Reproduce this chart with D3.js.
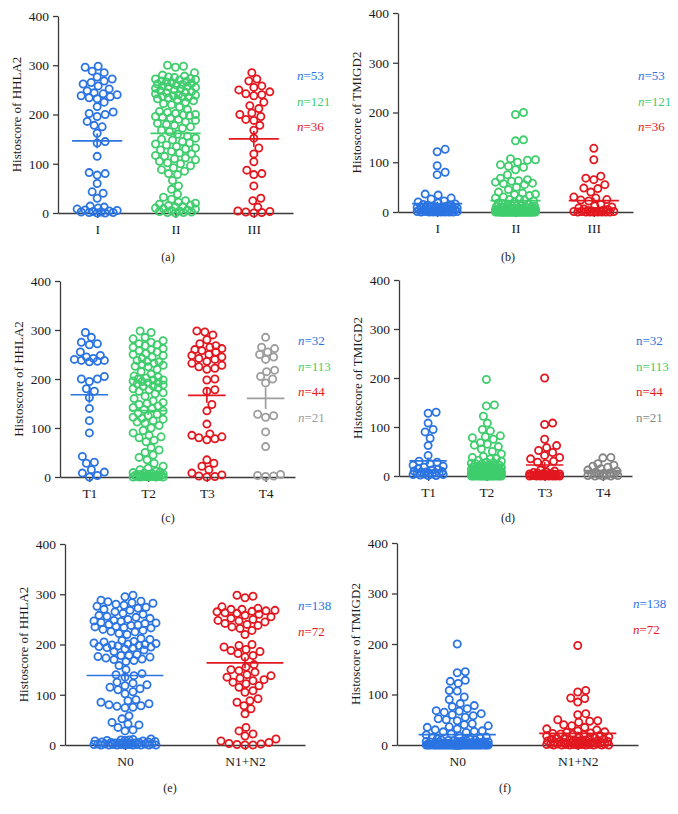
<!DOCTYPE html>
<html>
<head>
<meta charset="utf-8">
<script src="https://cdn.jsdelivr.net/npm/d3@7"></script>
<style>
  body { margin: 0; background: #fff; }
  svg { display: block; font-family: "Liberation Serif", "DejaVu Serif", serif; }
</style>
</head>
<body>
<div id="vis"></div>
<script>

// categories
const stageCats = ["I", "II", "III"];
const tCats = ["T1", "T2", "T3", "T4"];
const nCats = ["N0", "N1+N2"];
const yTicks = [0, 100, 200, 300, 400];

// HHLA2 histoscore by stage
const hhla2StageI = [298, 296, 288, 285, 276, 272, 268, 265, 262, 258, 252, 248, 244, 242, 240, 238, 236, 234, 232,
  225, 216, 205, 202, 200, 196, 186, 178, 175, 162, 145, 142, 115, 82, 80, 77, 60, 43, 40, 30, 14, 12,
  10, 8, 6, 5, 4, 3, 2, 2, 1, 1, 0, 0];
const hhla2StageII = [300, 298, 296,
  285, 280, 278, 276, 275, 273, 272, 270, 268, 266, 265, 263, 262, 260, 258, 256, 255, 253, 252, 250,
  271, 267, 261, 257, 245, 237,
  248, 246, 244, 242, 240, 239, 238, 236, 235, 234, 232, 230, 228, 225, 222, 220,
  215, 210, 206, 204, 202, 200, 199, 198, 196, 195, 193, 190, 188, 185, 182, 180,
  178, 175, 172, 168, 165, 160, 156, 152, 150, 148, 145, 142, 140,
  138, 135, 132, 130, 128, 125, 122, 120, 117, 115, 112, 110, 108, 105, 102, 100,
  96, 92, 88, 85, 80, 78, 66,
  55, 48, 38, 32, 28, 25, 22, 20,
  18, 16, 15, 13, 12, 10, 9, 8, 6, 5, 4, 3, 2, 1, 1, 0];
const hhla2StageIII = [285, 272, 268, 258, 255, 250, 246, 242, 240, 238, 225, 218, 212, 203, 200, 196, 190, 188,
  178, 168, 152, 132, 120, 104, 87, 80, 78, 55, 30, 25, 12, 4, 3, 2, 1, 0];

// TMIGD2 histoscore by stage
const tmigd2StageI = [126, 121, 93, 80, 75, 36, 34, 28, 26, 22, 20, 18, 16, 15, 14, 13, 12, 11, 10, 10,
  9, 9, 8, 8, 7, 7, 6, 6, 5, 5, 5, 4, 4, 4, 3, 3, 3, 2, 2, 2, 2, 1, 1, 1, 1, 0, 0, 0, 0, 0, 0, 0, 0];
const tmigd2StageII = [200, 196, 145, 143, 107, 105, 104, 100, 95, 92, 90, 85, 75, 68, 65, 63, 62, 60, 58, 57,
  55, 50, 45, 40, 38, 36, 35, 33, 30,
  28, 26, 25, 24, 22, 20, 18, 17, 16, 15, 14, 13, 12, 12, 11, 10, 10, 9, 9, 8,
  8, 7, 7, 7, 6, 6, 6, 5, 5, 5, 5, 4, 4, 4, 4, 3, 3, 3, 3, 3, 2, 2, 2, 2, 2, 2, 1, 1, 1, 1, 1, 1, 1, 1,
  0, 0, 0, 0, 0, 0, 0, 0, 0, 0, 0, 0, 0, 0, 0, 0, 0, 0, 0, 0, 0, 0, 0, 0, 0, 0, 0, 0, 0, 0, 0, 0, 0, 0, 0, 0, 0, 0];
const tmigd2StageIII = [128, 105, 72, 68, 65, 55, 48, 47, 40, 30, 28, 25, 24, 22, 15, 12, 10, 8, 6, 5, 4, 3,
  2, 2, 1, 1, 1, 1, 0, 0, 0, 0, 0, 0, 0, 0];

// HHLA2 histoscore by T stage
const hhla2T1 = [295, 285, 275, 272, 270, 255, 248, 245, 242, 240, 238, 238, 236, 235, 205, 200, 200, 195, 180,
  175, 162, 140, 115, 90, 42, 30, 28, 15, 10, 8, 3, 0];
const hhla2T2 = [298, 295, 285, 282,
  278, 275, 272, 270, 268, 265, 262, 260, 258, 255, 252, 250, 248, 245, 242,
  238, 235, 232, 230, 228, 225, 220, 215, 210, 206, 204, 202, 200,
  198, 196, 195, 193, 190, 188, 185, 182, 178, 175, 172, 170,
  165, 160, 155, 150, 148, 145, 142, 140, 135, 130, 128, 125, 122, 120,
  118, 115, 112, 110, 105, 100, 95, 90, 85, 82, 80,
  75, 72, 60, 55, 50, 45, 40,
  236, 226, 198, 192, 186, 180, 152, 138,
  35, 28, 22, 18, 15, 12, 10, 9, 8, 7, 6, 5, 5, 4, 3, 3, 2, 2, 1, 1, 1, 0, 0, 0, 0, 0, 1, 2, 3];
const hhla2T3 = [298, 296, 290, 280, 272, 268, 265, 262, 260, 258, 255, 250, 248, 245, 242, 240, 236, 232, 228,
  225, 222, 220, 200, 198, 178, 175, 148, 135, 108, 88, 85, 82, 80, 78, 76, 35, 28, 22, 15, 8, 4, 2, 1, 0];
const hhla2T4 = [285, 265, 262, 255, 250, 245, 240, 218, 215, 205, 200, 192, 128, 125, 122, 92, 62, 5, 3, 2, 1];

// TMIGD2 histoscore by T stage
const tmigd2T1 = [130, 128, 108, 95, 90, 77, 62, 42, 30, 28, 25, 22, 20, 18, 15, 14, 12, 10, 9, 8, 8, 7, 6,
  5, 5, 4, 4, 3, 3, 2, 1, 1];
const tmigd2T2 = [197, 145, 143, 122, 108, 95, 92, 82, 80, 78, 75, 68, 65, 63, 60, 55, 50, 45, 40, 38, 36, 35, 32, 30,
  28, 27, 26, 25, 24, 23, 22, 21, 20, 20, 19, 18, 18, 17, 16, 16, 15, 15, 14, 14,
  13, 13, 12, 12, 11, 11, 10, 10, 10, 9, 9, 9, 8, 8, 8, 8, 7, 7, 7, 7,
  6, 6, 6, 6, 5, 5, 5, 5, 5, 4, 4, 4, 4, 4, 3, 3, 3, 3, 3, 3, 2, 2, 2, 2, 2, 2, 1, 1, 1, 1, 1, 1, 1,
  0, 0, 0, 0, 0, 0, 0, 0, 0, 0, 0, 0, 0, 0, 0, 0];
const tmigd2T3 = [200, 108, 105, 75, 62, 58, 52, 48, 42, 38, 35, 30, 28, 25, 12, 10, 8, 7, 6, 5, 5, 4, 4,
  3, 3, 3, 2, 2, 2, 2, 1, 1, 1, 1, 1, 1, 0, 0, 0, 0, 0, 0, 0, 0];
const tmigd2T4 = [38, 37, 25, 22, 20, 18, 15, 12, 10, 8, 6, 5, 4, 3, 2, 2, 1, 1, 0, 0, 0];

// HHLA2 histoscore by N stage
const hhla2N0 = [298, 295, 288, 286, 285, 283, 282, 280,
  278, 276, 274, 272, 270, 268, 265, 262, 260, 258, 256, 254, 252, 250,
  248, 246, 244, 242, 240, 238, 236, 235, 233, 230, 228, 225, 222, 220,
  212, 208, 205, 203, 202, 200, 199, 198, 197, 196, 195, 193, 191, 189,
  180, 178, 176, 175, 173, 171, 170, 168, 166,
  158, 150, 142, 140, 138, 135,
  125, 123, 120, 118, 115, 112, 110, 106, 102,
  90, 88, 85, 82, 80, 78, 77, 75, 74,
  58, 52, 45, 42, 40, 35, 30, 28,
  247, 243, 239, 234, 226, 210, 206, 201, 194, 186, 178,
  12, 11, 10, 9, 8, 8, 7, 6, 5, 5, 4, 4, 3, 3, 2, 2, 2, 1, 1, 1, 1, 0, 0, 0, 0, 0, 0, 0,
  0, 1, 2, 3, 4, 6, 9, 10];
const hhla2N12 = [298, 296, 293, 275, 272, 270, 268, 267, 266, 265, 263, 262, 260, 258, 255, 252, 250, 248, 247,
  245, 242, 240, 238, 235, 232, 228, 220, 200, 198, 195, 190, 188, 186, 182, 178, 175, 160, 155, 150, 148,
  145, 140, 138, 135, 133, 130, 128, 125, 122, 118, 115, 108, 105, 92, 88, 85, 78, 72, 62, 35, 28, 22,
  18, 12, 8, 5, 3, 2, 1, 0, 270, 0];

// TMIGD2 histoscore by N stage
const tmigd2N0 = [200, 145, 143, 128, 126, 122, 108, 107, 95, 90, 82, 78, 76, 72, 68, 67, 65, 62, 60, 58,
  55, 52, 50, 48, 42, 40, 38, 36, 35, 32, 30, 28, 27, 26, 25,
  22, 20, 18, 16, 15, 14, 12, 11, 10, 10, 9, 9, 8, 8, 7, 7, 6, 6, 6, 5, 5, 5, 5, 4, 4, 4, 4,
  3, 3, 3, 3, 3, 2, 2, 2, 2, 2, 2,
  1, 1, 1, 1, 1, 1, 1, 1, 1, 1, 1, 1, 1, 1, 1, 1, 1, 1, 1, 1, 1, 1, 1, 1, 1, 1, 1, 1, 1, 1,
  0, 0, 0, 0, 0, 0, 0, 0, 0, 0, 0, 0, 0, 0, 0, 0, 0, 0, 0, 0, 0, 0, 0, 0, 0, 0, 0, 0, 0, 0, 0, 0, 0, 0, 0];
const tmigd2N12 = [197, 108, 105, 93, 92, 85, 62, 60, 50, 48, 47, 45, 40, 38, 35, 32, 30, 28,
  26, 25, 24, 23, 22, 21, 20, 19, 18, 17, 16, 15, 14, 14, 13, 12, 12, 11, 10, 10, 9, 9, 8, 8, 7, 7,
  6, 6, 5, 5, 5, 4, 4, 4, 3, 3, 3, 2, 2, 2, 2, 1, 1, 1, 1, 1, 0, 0, 0, 0, 0, 0, 0, 0];

const blue = "#2b74e2", green = "#3fcd6d", red = "#e2171f";

const panels = [
  {letter: "(a)", label: "Histoscore of HHLA2", cats: stageCats, groups: [hhla2StageI, hhla2StageII, hhla2StageIII],
   colors: [blue, green, red], x0: 58, x1: 293, yTop: 16, yBot: 213, nX: 297, nY: 80, lx: 168, ly: 261, italic: true},
  {letter: "(b)", label: "Histoscore of TMIGD2", cats: stageCats, groups: [tmigd2StageI, tmigd2StageII, tmigd2StageIII],
   colors: [blue, green, red], x0: 398, x1: 633, yTop: 13, yBot: 212, nX: 638, nY: 80, lx: 508, ly: 261, italic: true},
  {letter: "(c)", label: "Histoscore of HHLA2", cats: tCats, groups: [hhla2T1, hhla2T2, hhla2T3, hhla2T4],
   colors: [blue, green, red, "#9d9d9d"], x0: 60, x1: 295, yTop: 281, yBot: 477, nX: 298, nY: 345, lx: 168, ly: 522, italic: true},
  {letter: "(d)", label: "Histoscore of TMIGD2", cats: tCats, groups: [tmigd2T1, tmigd2T2, tmigd2T3, tmigd2T4],
   colors: [blue, green, red, "#858585"], x0: 399, x1: 632, yTop: 280, yBot: 476, nX: 636, nY: 345, lx: 508, ly: 522, italic: false},
  {letter: "(e)", label: "Histoscore of HHLA2", cats: nCats, groups: [hhla2N0, hhla2N12],
   colors: [blue, red], x0: 65, x1: 305, yTop: 544, yBot: 745, nX: 298, nY: 610, lx: 170, ly: 792, italic: true},
  {letter: "(f)", label: "Histoscore of TMIGD2", cats: nCats, groups: [tmigd2N0, tmigd2N12],
   colors: [blue, red], x0: 397, x1: 638, yTop: 543, yBot: 745, nX: 633, nY: 608, lx: 505, ly: 792, italic: true}
];

const W = 678, H = 814;
const r = 3.6;

const svg = d3.select("#vis").append("svg")
  .attr("width", W)
  .attr("height", H);

svg.append("rect").attr("width", W).attr("height", H).attr("fill", "#fff");

// greedy beeswarm: place each point as close to the centre as it fits, bottom first
function swarm(values, y, maxOff, minDist) {
  const pts = values.map(v => ({v: v, y: y(v)})).sort((a, b) => b.y - a.y);
  const placed = [];
  pts.forEach(p => {
    let best = 0, bestD = -1;
    for (let k = 0; k <= maxOff * 2; k++) {
      const off = (k % 2 ? 1 : -1) * Math.ceil(k / 2);
      let dmin = Infinity;
      placed.forEach(q => {
        if (Math.abs(q.y - p.y) >= minDist) return;
        const d = Math.hypot(q.off - off, q.y - p.y);
        if (d < dmin) dmin = d;
      });
      if (dmin >= minDist) { best = off; bestD = dmin; break; }
      if (dmin > bestD) { bestD = dmin; best = off; }
    }
    p.off = best;
    placed.push(p);
  });
  return pts;
}

panels.forEach(p => {
  const g = svg.append("g");

  const y = d3.scaleLinear().domain([0, 400]).range([p.yBot, p.yTop]);
  const x = d3.scalePoint().domain(p.cats).range([p.x0, p.x1]).padding(0.5);
  const step = x.step();

  // axes
  const yAxis = g.append("g")
    .attr("transform", `translate(${p.x0},0)`)
    .call(d3.axisLeft(y).tickValues(yTicks).tickSize(5).tickSizeOuter(0).tickPadding(4));
  const xAxis = g.append("g")
    .attr("transform", `translate(0,${p.yBot})`)
    .call(d3.axisBottom(x).tickSize(5).tickSizeOuter(0).tickPadding(6));

  [yAxis, xAxis].forEach(a => {
    a.attr("font-family", "Liberation Serif").attr("font-size", 13.5);
    a.selectAll("path, line").attr("stroke", "#3a3a3a").attr("stroke-width", 1.3);
    a.selectAll("text").attr("fill", "#1a1a1a");
  });

  g.append("text")
    .attr("transform", `translate(${p.x0 - 42},${(p.yTop + p.yBot) / 2}) rotate(-90)`)
    .attr("text-anchor", "middle")
    .attr("dy", "0.35em")
    .attr("font-size", 13)
    .attr("fill", "#1a1a1a")
    .text(p.label);

  // points
  p.groups.forEach((vals, i) => {
    const cx = x(p.cats[i]);
    const col = p.colors[i];
    const pts = swarm(vals, y, Math.round(step * 0.26), 7.6);

    g.append("g").selectAll("circle")
      .data(pts)
      .enter()
      .append("circle")
      .attr("cx", d => cx + d.off)
      .attr("cy", d => d.y)
      .attr("r", r)
      .attr("fill", "none")
      .attr("stroke", col)
      .attr("stroke-width", 1.8);

    // mean +/- SEM
    const m = d3.mean(vals);
    const sem = d3.deviation(vals) / Math.sqrt(vals.length);
    const hw = step * 0.32;
    g.append("line")
      .attr("x1", cx - hw).attr("x2", cx + hw)
      .attr("y1", y(m)).attr("y2", y(m))
      .attr("stroke", col).attr("stroke-width", 1.7);
    g.append("line")
      .attr("x1", cx).attr("x2", cx)
      .attr("y1", y(m - sem)).attr("y2", y(m + sem))
      .attr("stroke", col).attr("stroke-width", 1.7);

    // n labels
    const t = g.append("text")
      .attr("x", p.nX)
      .attr("y", p.nY + i * 25.5)
      .attr("font-size", 13)
      .attr("fill", col);
    t.append("tspan").attr("font-style", p.italic ? "italic" : "normal").text("n");
    t.append("tspan").text("=" + vals.length);
  });

  g.append("text")
    .attr("x", p.lx)
    .attr("y", p.ly)
    .attr("text-anchor", "middle")
    .attr("font-size", 12)
    .attr("fill", "#1a1a1a")
    .text(p.letter);
});

</script>
</body>
</html>
